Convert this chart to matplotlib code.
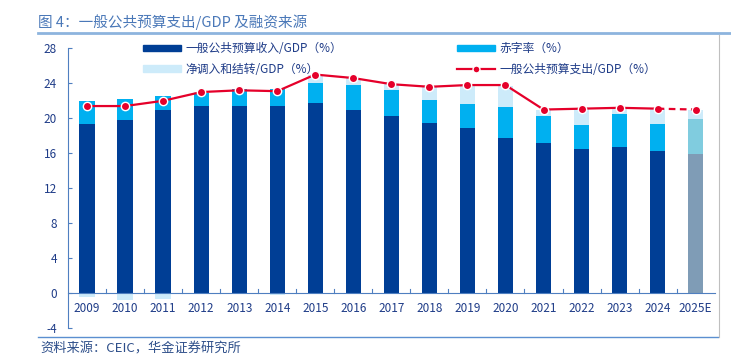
import numpy as np
import matplotlib.pyplot as plt
from matplotlib.lines import Line2D

plt.rcParams['font.family'] = ['Noto Sans CJK SC', 'DejaVu Sans']
plt.rcParams['axes.unicode_minus'] = False

years = ['2009', '2010', '2011', '2012', '2013', '2014', '2015', '2016', '2017',
         '2018', '2019', '2020', '2021', '2022', '2023', '2024', '2025E']
revenue = [19.3, 19.8, 20.9, 21.4, 21.4, 21.4, 21.7, 20.9, 20.3, 19.5, 18.9,
           17.7, 17.2, 16.5, 16.7, 16.3, 15.9]
deficit = [2.7, 2.4, 1.7, 1.5, 1.9, 1.9, 2.3, 2.9, 2.9, 2.6, 2.7, 3.6, 3.1,
           2.7, 3.8, 3.0, 4.0]
net_transfer = [-0.4, -0.8, -0.6, 0.1, -0.1, -0.25, 0.9, 0.8, 0.7, 1.5, 2.1,
                2.4, 0.6, 1.9, 0.6, 1.8, 1.05]
expenditure = [21.4, 21.4, 22.0, 23.0, 23.2, 23.1, 25.0, 24.6, 23.9, 23.6,
               23.8, 23.8, 21.0, 21.1, 21.2, 21.1, 21.0]

W, H = 731, 354
fig = plt.figure(figsize=(W / 100, H / 100), dpi=100)
ax = fig.add_axes([68 / W, 1 - 328.3 / H, (714.7 - 68) / W, 280 / H])

x = np.arange(len(years))
rev = np.array(revenue)
dfc = np.array(deficit)
net = np.array(net_transfer)

c_rev = ['#003E95'] * (len(x) - 1) + ['#7F9CB6']
c_def = ['#00B0F0'] * (len(x) - 1) + ['#80CCDF']
c_net = '#CDEBFA'
bw = 0.4

ax.bar(x, rev, bw, color=c_rev, zorder=2)
ax.bar(x, dfc, bw, bottom=rev, color=c_def, zorder=2)
net_bottom = np.where(net > 0, rev + dfc, 0)
ax.bar(x, net, bw, bottom=net_bottom, color=c_net, zorder=2)

red = '#E5002A'
ax.plot(x[:-1], expenditure[:-1], color=red, lw=1.6, marker='o', ms=6,
        mfc=red, mec='white', mew=1.0, zorder=4)
ax.plot(x[-2:], expenditure[-2:], color=red, lw=1.6, ls=(0, (3, 2)), marker='o',
        ms=6, mfc=red, mec='white', mew=1.0, markevery=[1], zorder=4)

ax.set_xlim(-0.5, len(x) - 0.5)
ax.set_ylim(-4, 28)
ax.set_yticks(np.arange(-4, 29, 4))
ax.set_xticks(x)
ax.set_xticklabels(years)
for s in ['top', 'right']:
    ax.spines[s].set_visible(False)
ax.spines['left'].set_color('#4F7FC0')
ax.spines['bottom'].set_position(('data', 0))
ax.spines['bottom'].set_color('#4F7FC0')
ax.spines['bottom'].set_zorder(3)
for b in np.arange(0.5, len(x) - 0.5, 1):
    ax.plot([b, b], [0, 0.45], color='#4F7FC0', lw=0.8, zorder=3)
ax.tick_params(axis='x', length=0, pad=6, labelsize=8.5, labelcolor='#1F3C88')
ax.tick_params(axis='y', length=3, direction='in', pad=8, labelsize=8.5,
               labelcolor='#1F3C88', color='#4F7FC0')

handles = [
    plt.Rectangle((0, 0), 1, 1, color='#003E95'),
    plt.Rectangle((0, 0), 1, 1, color=c_net),
    plt.Rectangle((0, 0), 1, 1, color='#00B0F0'),
    Line2D([], [], color=red, lw=1.6, marker='o', ms=5, mfc=red, mec='white'),
]
labels = ['一般公共预算收入/GDP（%）', '净调入和结转/GDP（%）', '赤字率（%）',
          '一般公共预算支出/GDP（%）']
ax.legend(handles, labels, ncol=2, loc='upper left', frameon=False,
          bbox_to_anchor=(0.1, 1.06), fontsize=8.5, handlelength=3.2,
          handleheight=0.45, columnspacing=9.7, labelspacing=0.65,
          labelcolor='#1F3C88', handletextpad=0.4)

fig.text(38 / W, 1 - 22 / H, '图 4：一般公共预算支出/GDP 及融资来源', fontsize=10.5,
         color='#4A78B8', va='center', ha='left')
fig.add_artist(Line2D([38 / W, 1], [1 - 33 / H] * 2, color='#8DB4DE', lw=2))
fig.add_artist(Line2D([38 / W, 718 / W], [1 - 337 / H] * 2, color='#5B8FD0', lw=1))
fig.add_artist(Line2D([719 / W] * 2, [1 - 35 / H, 1 - 337 / H], color='#BFBFBF', lw=0.8))
fig.text(40 / W, 1 - 349 / H, '资料来源：CEIC，华金证券研究所', fontsize=9.5,
         color='#2E4F8A', style='italic', va='center', ha='left')

fig.savefig('out.png', dpi=100)
